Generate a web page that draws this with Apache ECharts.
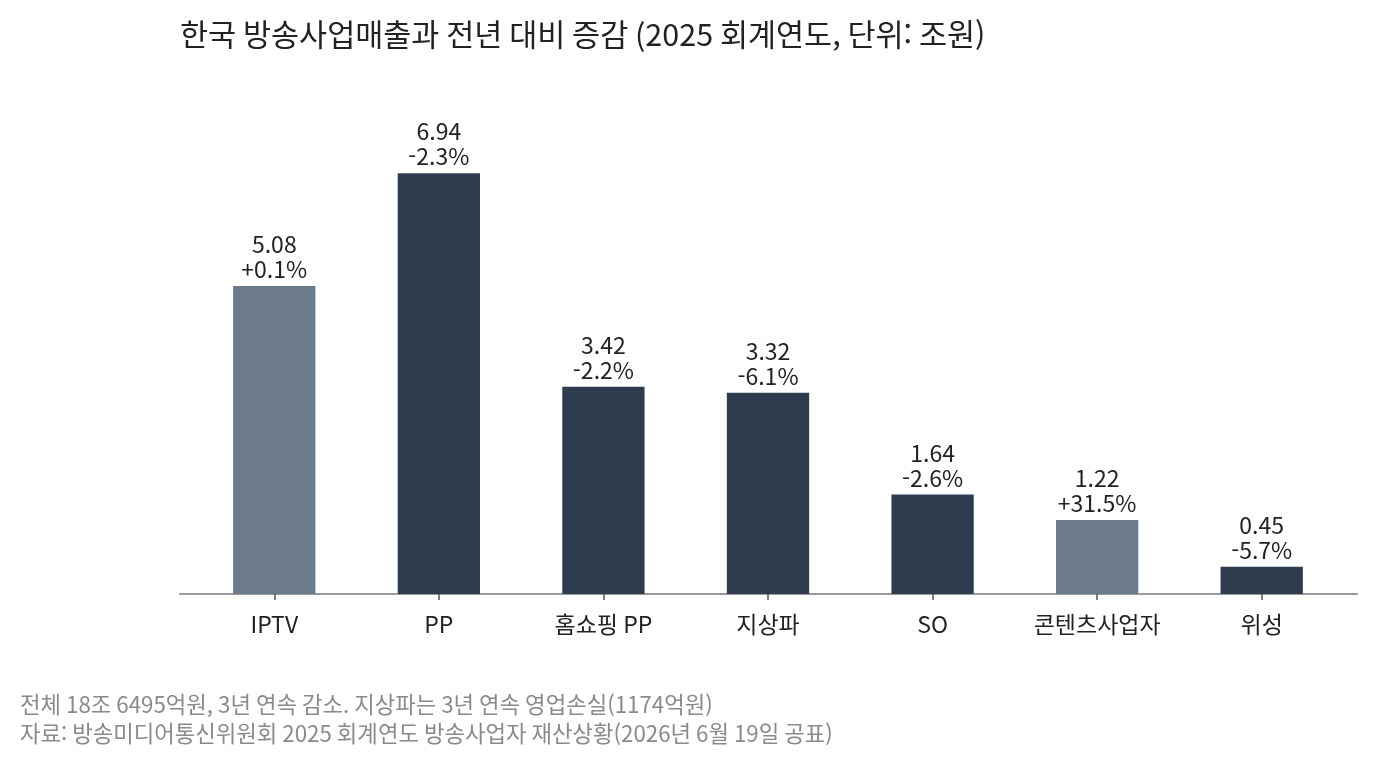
<!DOCTYPE html>
<html lang="ko">

<head>
    <meta charset="UTF-8">
    <title>한국 방송사업매출</title>
    <style>
        body { margin: 0; background: #fff; }
        #main { width: 1377px; height: 763px; }
    </style>
</head>

<body>
    <div id="main"></div>
    <script src="https://cdn.jsdelivr.net/npm/echarts@6/dist/echarts.min.js"></script>
    <script>
        // 사업자 구분, 매출(조원), 전년 대비 증감(%)
        const categories = ['IPTV', 'PP', '홈쇼핑 PP', '지상파', 'SO', '콘텐츠사업자', '위성'];
        const sales = [5.08, 6.94, 3.42, 3.32, 1.64, 1.22, 0.45];
        const growth = [0.1, -2.3, -2.2, -6.1, -2.6, 31.5, -5.7];

        const FONT = '"Noto Sans CJK KR", "Noto Sans", sans-serif';
        const DARK = '#2e3c4d';
        const LIGHT = '#6b7b8b';

        const fmtGrowth = g => (g > 0 ? '+' : '') + g.toFixed(1) + '%';

        const chart = echarts.init(document.getElementById('main'));
        chart.setOption({
            animation: false,
            textStyle: { fontFamily: FONT },
            title: {
                text: '한국 방송사업매출과 전년 대비 증감 (2025 회계연도, 단위: 조원)',
                left: 180,
                top: 19,
                padding: 0,
                textStyle: { fontSize: 30.5, fontWeight: 'normal', color: '#222', fontFamily: FONT }
            },
            graphic: [{
                type: 'text',
                left: 20,
                top: 690,
                style: {
                    text: '전체 18조 6495억원, 3년 연속 감소. 지상파는 3년 연속 영업손실(1174억원)\n자료: 방송미디어통신위원회 2025 회계연도 방송사업자 재산상황(2026년 6월 19일 공표)',
                    font: '22.3px ' + FONT,
                    fill: '#8a8a8a',
                    lineHeight: 29
                }
            }],
            grid: [
                // 막대 영역
                { left: 192, right: 33, top: 109, bottom: 169 },
                // 가로축 선 (좌우 여백 포함)
                { left: 180, right: 20, top: 109, bottom: 169 }
            ],
            xAxis: [{
                type: 'category',
                gridIndex: 0,
                data: categories,
                axisLine: { show: false },
                axisTick: { show: true, interval: 0, alignWithLabel: true, length: 6, lineStyle: { color: '#555', width: 1.5 } },
                axisLabel: { interval: 0, fontSize: 23, color: '#222', margin: 19, fontFamily: FONT }
            }, {
                type: 'value',
                gridIndex: 1,
                min: 0,
                max: 1,
                axisLine: { show: true, onZero: false, lineStyle: { color: '#9a9a9a', width: 2 } },
                axisTick: { show: false },
                axisLabel: { show: false },
                splitLine: { show: false }
            }],
            yAxis: [{
                type: 'value',
                gridIndex: 0,
                min: 0,
                max: 8,
                show: false
            }, {
                type: 'value',
                gridIndex: 1,
                min: 0,
                max: 8,
                show: false
            }],
            series: [{
                type: 'bar',
                xAxisIndex: 0,
                yAxisIndex: 0,
                barWidth: '50%',
                data: sales.map((v, i) => ({
                    value: v,
                    itemStyle: { color: growth[i] > 0 ? LIGHT : DARK }
                })),
                label: {
                    show: true,
                    position: 'top',
                    distance: 4,
                    fontSize: 23,
                    lineHeight: 25,
                    color: '#222',
                    fontFamily: FONT,
                    formatter: p => sales[p.dataIndex].toFixed(2) + '\n' + fmtGrowth(growth[p.dataIndex])
                }
            }]
        });
    </script>
</body>

</html>
